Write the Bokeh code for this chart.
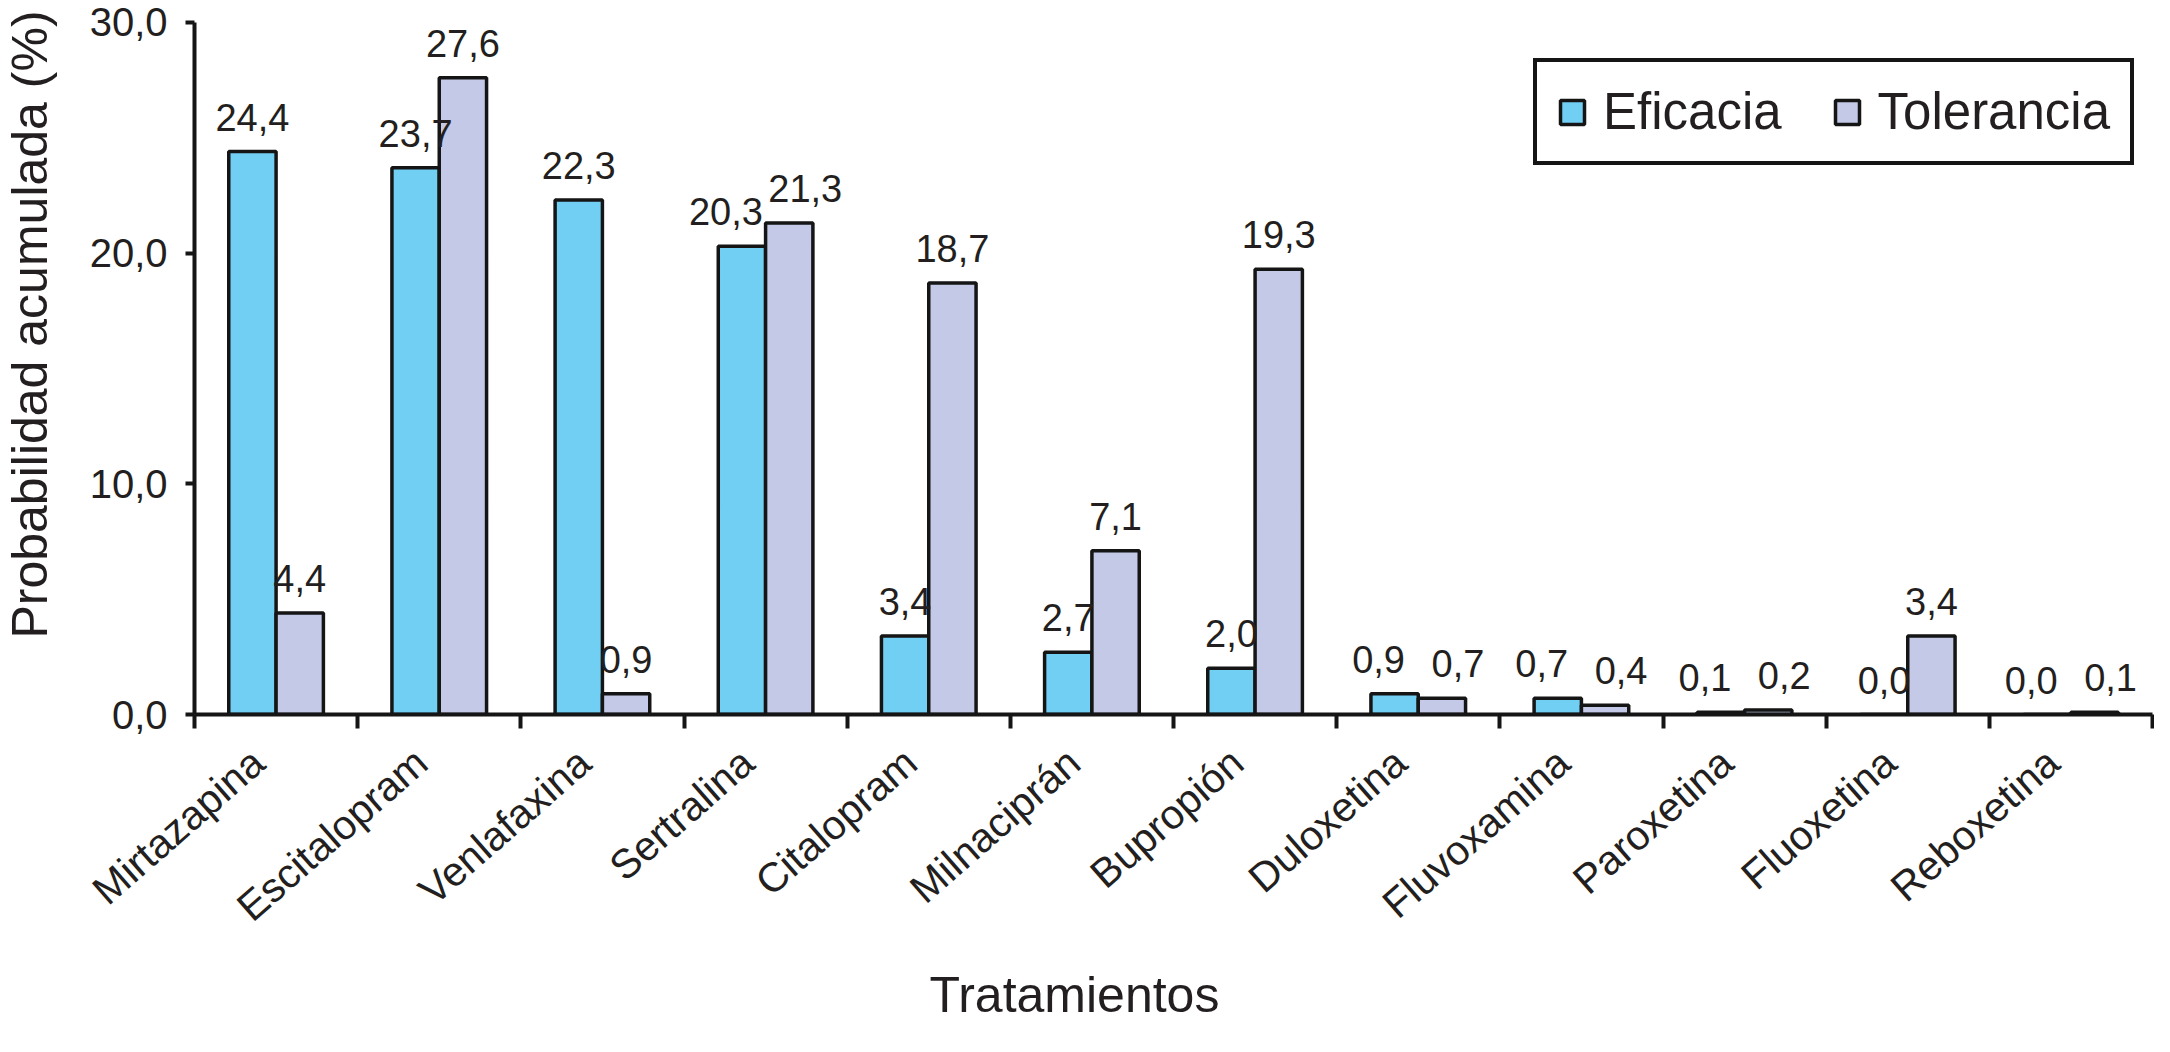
import math
from bokeh.plotting import figure
from bokeh.layouts import row
from bokeh.models import Range1d, FixedTicker, CustomJSTickFormatter, Label, ColumnDataSource, Title
from bokeh.transform import dodge
from bokeh.embed import file_html
from bokeh.resources import INLINE
from bokeh.core.properties import value

# ---- data ----
categories = ["Mirtazapina", "Escitalopram", "Venlafaxina", "Sertralina", "Citalopram",
              "Milnaciprán", "Bupropión", "Duloxetina", "Fluvoxamina", "Paroxetina",
              "Fluoxetina", "Reboxetina"]
eficacia = [24.4, 23.7, 22.3, 20.3, 3.4, 2.7, 2.0, 0.9, 0.7, 0.1, 0.0, 0.0]
tolerancia = [4.4, 27.6, 0.9, 21.3, 18.7, 7.1, 19.3, 0.7, 0.4, 0.2, 3.4, 0.1]
y_ticks = [0, 10, 20, 30]
series_names = ["Eficacia", "Tolerancia"]
x_title = "Tratamientos"
y_title = "Probabilidad acumulada (%)"

FONT = "Liberation Sans"
TXT = "#231f20"
LINE = "#151515"
C_EF = "#72cff4"
C_TO = "#c3c9e6"
BAR_W = 0.29
LABEL_SHIFT = -0.11   # category labels sit slightly left of the group centre
SPREAD = 16           # px: push apart the two value labels of a pair when they would touch

def fmt(v):
    return f"{v:.1f}".replace(".", ",")

centers = [i + 0.5 for i in range(len(categories))]
close = [abs(a - b) < 2.0 for a, b in zip(eficacia, tolerancia)]
src = ColumnDataSource(dict(
    x=centers, ef=eficacia, to=tolerancia,
    ef_lbl=[fmt(v) for v in eficacia], to_lbl=[fmt(v) for v in tolerancia],
    ef_dx=[-SPREAD if c else 0 for c in close], to_dx=[SPREAD if c else 0 for c in close],
))

LEFT_W = 70
p = figure(width=2154 - LEFT_W, height=1036, output_backend="svg", toolbar_location=None,
           x_range=Range1d(0, len(categories)), y_range=Range1d(0, 30.6),
           min_border_left=202 - 8 - LEFT_W, min_border_right=2, min_border_top=8,
           min_border_bottom=320)
p.background_fill_color = "white"
p.border_fill_color = "white"
p.outline_line_color = None
p.xgrid.visible = False
p.ygrid.visible = False

p.vbar(x=dodge("x", -BAR_W / 2, range=p.x_range), top="ef", width=BAR_W, bottom=0, source=src,
       fill_color=C_EF, line_color=LINE, line_width=3.5, legend_label=series_names[0])
p.vbar(x=dodge("x", BAR_W / 2, range=p.x_range), top="to", width=BAR_W, bottom=0, source=src,
       fill_color=C_TO, line_color=LINE, line_width=3.5, legend_label=series_names[1])

for col, lbl, off, dx in (("ef", "ef_lbl", -BAR_W / 2, "ef_dx"), ("to", "to_lbl", BAR_W / 2, "to_dx")):
    p.text(x=dodge("x", off, range=p.x_range), y=col, text=lbl, source=src,
           x_offset=dx, y_offset=-21,
           text_font=value(FONT), text_font_size="38px", text_color=TXT,
           text_align="center", text_baseline="bottom")

# x axis: boundary ticks (minor), labels at (shifted) category centres
xa = p.xaxis[0]
xa.ticker = FixedTicker(ticks=[c + LABEL_SHIFT for c in centers],
                        minor_ticks=list(range(len(categories) + 1)))
xa.formatter = CustomJSTickFormatter(args=dict(names=categories),
                                     code="return names[Math.floor(tick)];")
xa.major_tick_line_color = None
xa.minor_tick_out = 14
xa.minor_tick_in = 0
xa.minor_tick_line_width = 4
xa.minor_tick_line_color = LINE
xa.axis_line_width = 4
xa.axis_line_color = LINE
xa.major_label_orientation = 0.72
xa.major_label_text_font = FONT
xa.major_label_text_font_size = "41px"
xa.major_label_text_color = TXT
xa.major_label_standoff = 28

ya = p.yaxis[0]
ya.ticker = FixedTicker(ticks=y_ticks)
ya.bounds = (0, 30)
ya.formatter = CustomJSTickFormatter(code="return tick.toFixed(1).replace('.', ',');")
ya.major_tick_out = 9
ya.major_tick_in = 0
ya.major_tick_line_width = 4
ya.major_tick_line_color = LINE
ya.minor_tick_line_color = None
ya.axis_line_width = 4
ya.axis_line_color = LINE
ya.major_label_text_font = FONT
ya.major_label_text_font_size = "40px"
ya.major_label_text_color = TXT
ya.major_label_standoff = 18

# x title (below, offset towards the left like the reference)
p.add_layout(Title(text=x_title, align="left", offset=735, standoff=28,
                   text_font=FONT, text_font_size="50px", text_font_style="normal",
                   text_color=TXT), "below")

# legend
lg = p.legend[0]
lg.orientation = "horizontal"
lg.location = (1339, 549)
lg.label_text_font = FONT
lg.label_text_font_size = "51px"
lg.label_text_color = TXT
lg.glyph_width = 30
lg.glyph_height = 30
lg.label_standoff = 16
lg.spacing = 50
lg.padding = 20
lg.border_line_color = LINE
lg.border_line_width = 4
lg.border_line_alpha = 1
lg.background_fill_color = "white"
lg.background_fill_alpha = 1

# narrow left panel carrying the rotated y title (its frame is aligned with the main frame)
yf = figure(width=LEFT_W, height=1036, output_backend="svg", toolbar_location=None,
            x_range=Range1d(0, 1), y_range=Range1d(0, 1),
            x_axis_location=None, y_axis_location=None, min_border=0)
yf.outline_line_color = None
yf.xgrid.visible = False
yf.ygrid.visible = False
yf.add_layout(Label(x=29, y=390, x_units="screen", y_units="screen",
                    text=y_title, angle=math.pi / 2,
                    text_align="center", text_baseline="middle",
                    text_font=FONT, text_font_size="50px", text_color=TXT))

layout = row(yf, p)
open("out.html", "w").write(file_html(layout, INLINE))
